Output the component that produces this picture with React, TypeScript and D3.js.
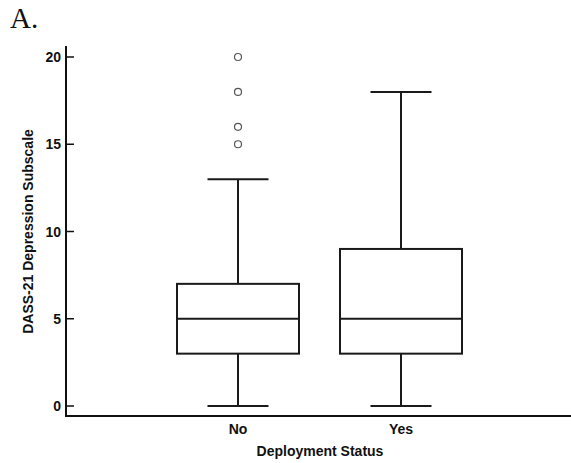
import React, { useRef, useEffect } from 'react';
import * as d3 from 'd3';

// box plot summary per group
const categories = ['No', 'Yes'];
const whiskerLow = [0, 0];
const q1 = [3, 3];
const medians = [5, 5];
const q3 = [7, 9];
const whiskerHigh = [13, 18];
const outliers = [[15, 16, 18, 20], []];
const yTicks = [0, 5, 10, 15, 20];

const W = 571;
const H = 463;

const App: React.FC = () => {
    const svgRef = useRef<SVGSVGElement | null>(null);

    useEffect(() => {
        if (!svgRef.current) return;
        const svg = d3.select(svgRef.current);
        svg.selectAll('*').remove();

        const axisX = 66;
        const axisY = 416;
        const font = '"Liberation Sans", Arial, sans-serif';
        const fs = 14;

        const y = d3.scaleLinear().domain([0, 20]).range([406, 57]);
        const x = d3
            .scalePoint<string>()
            .domain(categories)
            .range([238, 401]);
        const boxW = 122;

        // panel letter
        svg.append('text')
            .attr('x', 10)
            .attr('y', 28)
            .attr('font-family', '"Liberation Serif", "Times New Roman", serif')
            .attr('font-size', 29)
            .attr('fill', '#111')
            .text('A.');

        const g = svg.append('g');

        // boxes
        categories.forEach((c, i) => {
            const cx = x(c)!;
            const stroke = '#1a1a1a';
            // whiskers
            g.append('line')
                .attr('x1', cx).attr('x2', cx)
                .attr('y1', y(whiskerHigh[i])).attr('y2', y(q3[i]))
                .attr('stroke', stroke).attr('stroke-width', 2);
            g.append('line')
                .attr('x1', cx).attr('x2', cx)
                .attr('y1', y(q1[i])).attr('y2', y(whiskerLow[i]))
                .attr('stroke', stroke).attr('stroke-width', 2);
            [whiskerHigh[i], whiskerLow[i]].forEach((v) => {
                g.append('line')
                    .attr('x1', cx - boxW / 4).attr('x2', cx + boxW / 4)
                    .attr('y1', y(v)).attr('y2', y(v))
                    .attr('stroke', stroke).attr('stroke-width', 2);
            });
            g.append('rect')
                .attr('x', cx - boxW / 2)
                .attr('y', y(q3[i]))
                .attr('width', boxW)
                .attr('height', y(q1[i]) - y(q3[i]))
                .attr('fill', 'white')
                .attr('stroke', stroke)
                .attr('stroke-width', 2);
            g.append('line')
                .attr('x1', cx - boxW / 2).attr('x2', cx + boxW / 2)
                .attr('y1', y(medians[i])).attr('y2', y(medians[i]))
                .attr('stroke', stroke).attr('stroke-width', 2);
            g.selectAll(`.out-${i}`)
                .data(outliers[i])
                .enter()
                .append('circle')
                .attr('cx', cx)
                .attr('cy', (d) => y(d))
                .attr('r', 3.5)
                .attr('fill', 'white')
                .attr('stroke', '#555')
                .attr('stroke-width', 1.2);
        });

        // axes
        svg.append('line')
            .attr('x1', axisX).attr('x2', axisX)
            .attr('y1', 46).attr('y2', axisY + 1)
            .attr('stroke', '#111').attr('stroke-width', 2);
        svg.append('line')
            .attr('x1', axisX - 1).attr('x2', W)
            .attr('y1', axisY).attr('y2', axisY)
            .attr('stroke', '#111').attr('stroke-width', 2);

        yTicks.forEach((t) => {
            svg.append('line')
                .attr('x1', axisX).attr('x2', axisX + 8)
                .attr('y1', y(t)).attr('y2', y(t))
                .attr('stroke', '#111').attr('stroke-width', 1.5);
            svg.append('text')
                .attr('x', axisX - 5)
                .attr('y', y(t))
                .attr('dy', '0.36em')
                .attr('text-anchor', 'end')
                .attr('font-family', font)
                .attr('font-weight', 'bold')
                .attr('font-size', fs)
                .attr('fill', '#111')
                .text(t);
        });

        categories.forEach((c) => {
            svg.append('text')
                .attr('x', x(c)!)
                .attr('y', 433.5)
                .attr('text-anchor', 'middle')
                .attr('font-family', font)
                .attr('font-weight', 'bold')
                .attr('font-size', fs)
                .attr('fill', '#111')
                .text(c);
        });

        svg.append('text')
            .attr('x', 320)
            .attr('y', 456)
            .attr('text-anchor', 'middle')
            .attr('font-family', font)
            .attr('font-weight', 'bold')
            .attr('font-size', fs)
            .attr('fill', '#111')
            .text('Deployment Status');

        svg.append('text')
            .attr('transform', `translate(33,${(y(0) + y(20)) / 2}) rotate(-90)`)
            .attr('text-anchor', 'middle')
            .attr('font-family', font)
            .attr('font-weight', 'bold')
            .attr('font-size', fs)
            .attr('fill', '#111')
            .text('DASS-21 Depression Subscale');
    }, []);

    return (
        <svg
            ref={svgRef}
            width={W}
            height={H}
            style={{ position: 'absolute', left: 0, top: 0, background: 'white' }}
        ></svg>
    );
};

export default App;
